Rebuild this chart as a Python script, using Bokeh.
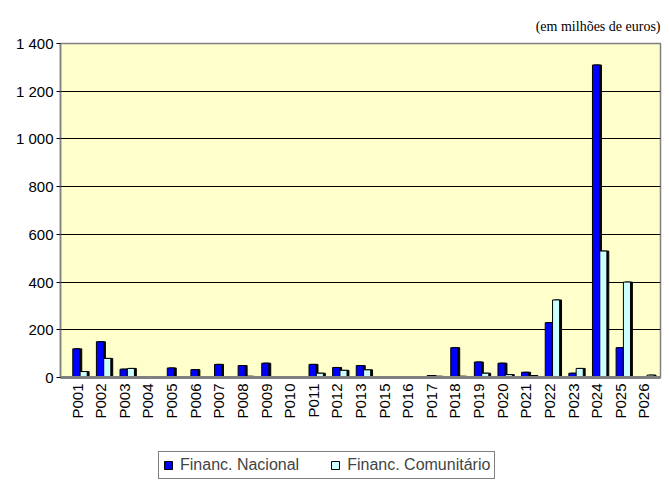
import math
from bokeh.plotting import figure
from bokeh.layouts import column
from bokeh.models import ColumnDataSource, FactorRange, Range1d, FixedTicker, Legend, LegendItem, Title
from bokeh.transform import dodge
from bokeh.embed import file_html
from bokeh.resources import INLINE

categories = ["P001", "P002", "P003", "P004", "P005", "P006", "P007", "P008", "P009", "P010",
              "P011", "P012", "P013", "P015", "P016", "P017", "P018", "P019", "P020", "P021",
              "P022", "P023", "P024", "P025", "P026"]
financ_nacional = [120, 150, 35, 3, 40, 33, 55, 50, 60, 1,
                   55, 42, 50, 2, 1, 8, 125, 65, 60, 22,
                   230, 18, 1310, 125, 3]
financ_comunitario = [25, 80, 38, 2, 3, 3, 3, 5, 3, 1,
                      18, 30, 32, 2, 1, 5, 5, 18, 12, 8,
                      325, 38, 530, 400, 10]
y_ticks = [0, 200, 400, 600, 800, 1000, 1200, 1400]
y_tick_labels = ["0", "200", "400", "600", "800", "1 000", "1 200", "1 400"]
unit_note = "(em milhões de euros)"
series_names = ["Financ. Nacional", "Financ. Comunitário"]
colors = ["#0000FF", "#CCFFFF"]

src = ColumnDataSource(dict(cat=categories, nac=financ_nacional, com=financ_comunitario))

p = figure(x_range=FactorRange(*categories, range_padding=0.016), y_range=Range1d(0, 1400),
           frame_width=600, frame_height=334,
           min_border_left=60, min_border_right=9, min_border_top=43, min_border_bottom=74,
           output_backend="svg", toolbar_location=None)

p.add_layout(Title(text=unit_note, align="right", text_font="Liberation Serif",
                   text_font_size="14px", text_font_style="normal", text_color="black",
                   standoff=20), "above")

p.background_fill_color = "#FFFFCC"
p.border_fill_color = "white"
p.outline_line_color = "#808080"
p.outline_line_width = 1.5

# dark 3D sides
p.vbar(x=dodge("cat", 0.05, range=p.x_range), top="nac", width=0.3, source=src,
       fill_color="black", line_color="black")
p.vbar(x=dodge("cat", 0.36, range=p.x_range), top="com", width=0.3, source=src,
       fill_color="black", line_color="black")
p.vbar(x=dodge("cat", -0.03, range=p.x_range), top="nac", width=0.3, source=src,
       fill_color=colors[0], line_color="black", line_width=1)
p.vbar(x=dodge("cat", 0.28, range=p.x_range), top="com", width=0.3, source=src,
       fill_color=colors[1], line_color="black", line_width=1)

p.yaxis.ticker = FixedTicker(ticks=y_ticks)
p.yaxis.major_label_overrides = {t: l for t, l in zip(y_ticks, y_tick_labels)}
p.yaxis.major_label_text_font = "Liberation Sans"
p.yaxis.major_label_text_font_size = "15px"
p.yaxis.major_label_text_color = "black"
p.yaxis.axis_line_color = "#808080"
p.yaxis.axis_line_width = 1.5
p.yaxis.major_tick_line_color = "black"
p.yaxis.major_tick_out = 4
p.yaxis.major_tick_in = 0
p.yaxis.major_label_standoff = 3
p.yaxis.minor_tick_line_color = None

p.xaxis.major_label_orientation = math.pi / 2
p.xaxis.major_label_text_font = "Liberation Sans"
p.xaxis.major_label_text_font_size = "15px"
p.xaxis.major_label_text_color = "black"
p.xaxis.axis_line_color = "#808080"
p.xaxis.axis_line_width = 3
p.xaxis.major_tick_line_color = None
p.xaxis.major_tick_out = 0
p.xaxis.major_label_standoff = 6

p.xgrid.grid_line_color = None
p.ygrid.grid_line_color = "black"
p.ygrid.grid_line_width = 1

# legend strip below the chart (its bars lie outside its own y range, only the legend shows)
lp = figure(width=669, height=31, x_range=FactorRange(*categories), y_range=Range1d(2000, 3000),
            x_axis_location=None, y_axis_location=None,
            min_border_left=0, min_border_right=0, min_border_top=0, min_border_bottom=0,
            output_backend="svg", toolbar_location=None)
lp.grid.grid_line_color = None
lp.outline_line_color = None
l1 = lp.vbar(x="cat", top="nac", width=0.3, source=src, fill_color=colors[0], line_color="black")
l2 = lp.vbar(x="cat", top="com", width=0.3, source=src, fill_color=colors[1], line_color="black")

legend = Legend(items=[LegendItem(label=series_names[0], renderers=[l1]),
                       LegendItem(label=series_names[1], renderers=[l2])],
                orientation="horizontal", location=(98, 3),
                label_text_font="Liberation Sans", label_text_font_size="16px",
                glyph_width=10, glyph_height=10, label_height=16, label_standoff=7,
                spacing=31, padding=4,
                border_line_color="black", border_line_width=1,
                background_fill_color="white", margin=0)
lp.add_layout(legend, "center")

layout = column(p, lp, spacing=0)
open("out.html", "w").write(file_html(layout, INLINE))
